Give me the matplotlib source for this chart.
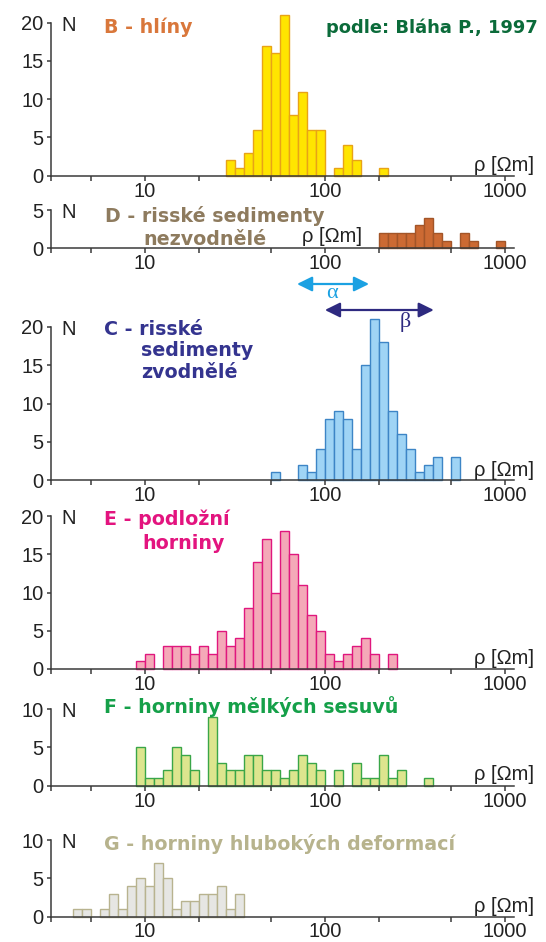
import numpy as np
import matplotlib
matplotlib.use('Agg')
import matplotlib.pyplot as plt
from matplotlib.ticker import NullFormatter
from matplotlib.transforms import blended_transform_factory

plt.rcParams['font.family'] = ['Liberation Sans', 'DejaVu Sans']

# histogram data: log10 of first bin edge, 20 bins per decade, counts N
bin_w = 0.05

b_start = 1.45
b_counts = [2, 1, 3, 6, 17, 16, 21, 8, 11, 6, 6, 0, 1, 4, 2, 0, 0, 1]

d_start = 2.30
d_counts = [2, 2, 2, 2, 3, 4, 2, 1, 0, 2, 1, 0, 0, 1]

c_start = 1.70
c_counts = [1, 0, 0, 2, 1, 4, 8, 9, 8, 4, 15, 21, 18, 9, 6, 4, 1, 2, 3, 0, 3]

e_start = 0.95
e_counts = [1, 2, 0, 3, 3, 3, 2, 3, 2, 5, 3, 4, 8, 14, 17, 10, 18, 15, 11, 7,
            5, 2, 1, 2, 3, 4, 2, 0, 2]

f_start = 0.95
f_counts = [5, 1, 1, 2, 5, 4, 2, 0, 9, 3, 2, 2, 4, 4, 2, 2, 1, 2, 4, 3, 2, 0,
            2, 0, 3, 1, 1, 4, 1, 2, 0, 0, 1]

g_start = 0.60
g_counts = [1, 1, 0, 1, 3, 1, 4, 5, 4, 7, 5, 1, 2, 2, 3, 3, 4, 1, 3]

# ranges marked by arrows (Ohm m)
alpha_range = [70, 176]
beta_range = [100, 403]

major_x = [10, 100, 1000]
minor_x = [3, 5, 20, 50, 200, 500]

W, H = 546, 942
X0, X1 = 50.75, 514.3
PX_PER_N = 7.65
AX_COL = '#3a3a3a'


def fx(px):
    return px / W


def fy(py):
    return 1 - py / H


fig = plt.figure(figsize=(W / 100, H / 100), dpi=100)

panels = [
    # counts, start, zero line y(px), top tick, fill, edge
    (b_counts, b_start, 175.7, 20, '#FFE500', '#E8A317'),
    (d_counts, d_start, 248.3, 5, '#CC6A33', '#A35528'),
    (c_counts, c_start, 480.0, 20, '#9FD4F5', '#3D85C6'),
    (e_counts, e_start, 669.0, 20, '#F4A9B8', '#E0177E'),
    (f_counts, f_start, 785.7, 10, '#DDE58E', '#3AA648'),
    (g_counts, g_start, 916.5, 10, '#E6E6E3', '#B8B38F'),
]

axes = []
for counts, start, zero_y, top, fill, edge in panels:
    counts = np.array(counts)
    ytop = top * 1.1
    h_px = ytop * PX_PER_N
    ax = fig.add_axes([fx(X0), fy(zero_y), fx(X1) - fx(X0), h_px / H])
    ax.patch.set_alpha(0)
    lefts = 10 ** (start + bin_w * np.arange(len(counts)))
    widths = lefts * (10 ** bin_w - 1)
    keep = counts > 0
    ax.bar(lefts[keep], counts[keep], width=widths[keep], align='edge',
           color=fill, edgecolor=edge, linewidth=1.0, clip_on=False)
    ax.set_xscale('log')
    ax.set_xlim(3, 1128)
    ax.set_ylim(0, ytop)
    for s in ['top', 'right']:
        ax.spines[s].set_visible(False)
    for s in ['left', 'bottom']:
        ax.spines[s].set_color(AX_COL)
        ax.spines[s].set_linewidth(1.1)
    ax.spines['left'].set_bounds(0, top)
    ax.set_yticks(np.arange(0, top + 1, 5))
    ax.set_xticks(major_x)
    ax.set_xticklabels([str(v) for v in major_x])
    ax.set_xticks(minor_x, minor=True)
    ax.xaxis.set_minor_formatter(NullFormatter())
    ax.tick_params(axis='y', direction='out', length=2.8, width=1.1,
                   color=AX_COL, labelsize=14.5, pad=2.5, labelcolor='#222222')
    ax.tick_params(axis='x', which='both', direction='out', length=3.6,
                   width=1.1, color=AX_COL, labelsize=14.5, pad=0.6,
                   labelcolor='#222222')
    fig.text(fx(61), fy(zero_y - top * PX_PER_N) - 2.5 / H, 'N', fontsize=14.5,
             ha='left', va='center', color='#222222')
    axes.append(ax)

# rho labels
rho_pos = [(534, 170.7, 'right'), (302, 241.7, 'left'), (534, 475.5, 'right'),
           (534, 663.5, 'right'), (534, 780.0, 'right'), (534, 911.5, 'right')]
for x, y, ha in rho_pos:
    fig.text(fx(x), fy(y), 'ρ [Ωm]', fontsize=14.5, ha=ha, va='baseline',
             color='#222222')

# titles
tkw = dict(family='DejaVu Sans', fontweight='bold', fontsize=13.7,
           va='baseline', ha='left')
fig.text(fx(104), fy(32.7), 'B - hlíny', color='#D9773B', **tkw)
fig.text(fx(325.5), fy(32.7), 'podle: Bláha P., 1997', color='#0B6B3A',
         **dict(tkw, fontsize=12.9))
fig.text(fx(105), fy(221.7), 'D - risské sedimenty', color='#8E7B5E', **tkw)
fig.text(fx(143.5), fy(245.0), 'nezvodnělé', color='#8E7B5E', **tkw)
fig.text(fx(104), fy(335.0), 'C - risské', color='#34348F', **tkw)
fig.text(fx(141), fy(355.5), 'sedimenty', color='#34348F', **tkw)
fig.text(fx(141), fy(377.7), 'zvodnělé', color='#34348F', **tkw)
fig.text(fx(104), fy(525.0), 'E - podložní', color='#E3147F', **tkw)
fig.text(fx(142.5), fy(549.3), 'horniny', color='#E3147F', **tkw)
fig.text(fx(104), fy(713.3), 'F - horniny mělkých sesuvů', color='#15A049', **tkw)
fig.text(fx(104), fy(850.5), 'G - horniny hlubokých deformací', color='#B7B38D', **tkw)

# alpha / beta ranges
trans = blended_transform_factory(axes[2].transData, fig.transFigure)
for rng, y, col in [(alpha_range, 284, '#1BA1E2'), (beta_range, 310, '#2E2A80')]:
    axes[2].annotate('', xy=(rng[1], fy(y)), xytext=(rng[0], fy(y)),
                     xycoords=trans, textcoords=trans, annotation_clip=False,
                     arrowprops=dict(arrowstyle='<|-|>,head_length=0.65,head_width=0.32',
                                     color=col, lw=1.6, mutation_scale=14,
                                     shrinkA=0, shrinkB=0))
fig.text(fx(332), fy(293.3), 'α', color='#1BA1E2', fontsize=16,
         family='Liberation Serif', ha='center', va='center')
fig.text(fx(405), fy(322), 'β', color='#2E2A80', fontsize=16,
         family='Liberation Serif', ha='center', va='center')

fig.savefig('out.png', dpi=100)
